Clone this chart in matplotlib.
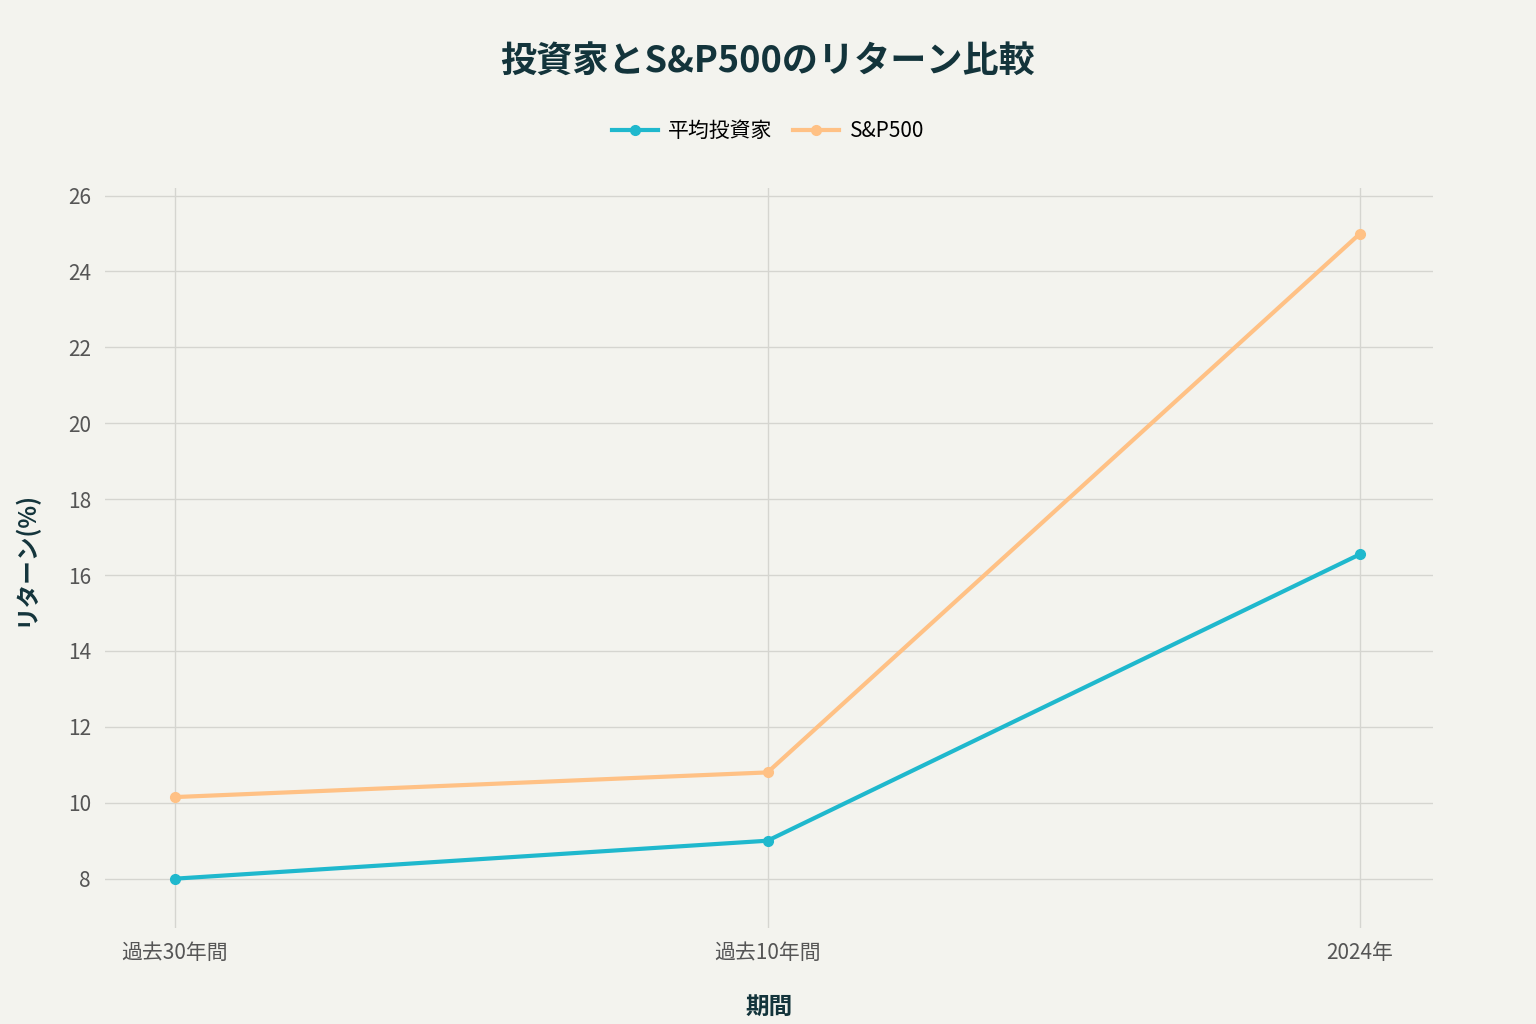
import matplotlib.pyplot as plt

plt.rcParams['font.family'] = ['Noto Sans CJK JP', 'DejaVu Sans']

periods = ["過去30年間", "過去10年間", "2024年"]
investor = [8.0, 9.0, 16.55]
sp500 = [10.15, 10.8, 25.0]
yticks = [8, 10, 12, 14, 16, 18, 20, 22, 24, 26]

bg = "#F3F3EE"
fig = plt.figure(figsize=(15.36, 10.24), dpi=100, facecolor=bg)
ax = fig.add_axes([105 / 1536, 1 - 928 / 1024, (1433 - 105) / 1536, (928 - 188) / 1024])
ax.set_facecolor(bg)

x = range(len(periods))
ax.plot(x, investor, color="#1FB8CD", lw=3, marker="o", ms=7, label="平均投資家")
ax.plot(x, sp500, color="#FFC185", lw=3, marker="o", ms=7, label="S&P500")

ax.set_xlim(-0.118, 2.123)
ax.set_ylim(6.7, 26.2)
ax.set_xticks(list(x))
ax.set_xticklabels(periods)
ax.set_yticks(yticks)
ax.grid(True, color="#D5D5D0", lw=1)
ax.set_axisbelow(True)
for s in ax.spines.values():
    s.set_visible(False)
ax.tick_params(length=0, labelsize=15, colors="#555555", pad=10)

ax.set_xlabel("期間", fontsize=17, fontweight="bold", color="#13343B", labelpad=22)
ax.set_ylabel("リターン(%)", fontsize=17, fontweight="bold", color="#13343B", labelpad=22)

fig.text(0.5, 1 - 62 / 1024, "投資家とS&P500のリターン比較", ha="center", va="center",
         fontsize=26, fontweight="bold", color="#13343B")
fig.legend(loc="center", bbox_to_anchor=(0.5, 1 - 131 / 1024), ncol=2, frameon=False,
           fontsize=15, handlelength=2.2, columnspacing=1.0, handletextpad=0.5)

fig.savefig("out.png", dpi=100, facecolor=bg)
